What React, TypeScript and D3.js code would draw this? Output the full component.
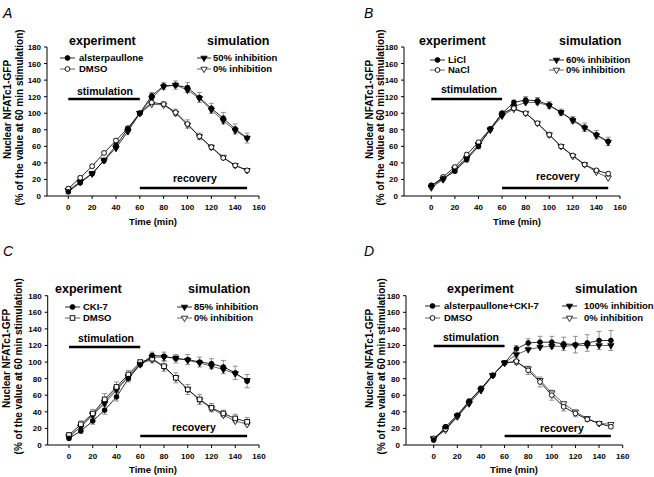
import React from "react";
import * as d3 from "d3";

const times = [0, 10, 20, 30, 40, 50, 60, 70, 80, 90, 100, 110, 120, 130, 140, 150];
const yTicks = [0, 20, 40, 60, 80, 100, 120, 140, 160, 180];
const xTicks = [0, 20, 40, 60, 80, 100, 120, 140, 160];

// Panel A
const aDrug = [5, 16, 27, 43, 61, 81, 100, 121, 133, 134, 131, 119, 106, 94, 81, 70];
const aDrugErr = [2, 2, 2, 3, 3, 3, 2, 4, 4, 5, 6, 6, 6, 7, 6, 6];
const aCtrl = [9, 22, 36, 52, 67, 82, 100, 113, 111, 101, 87, 72, 59, 46, 37, 31];
const aCtrlErr = [2, 2, 2, 2, 2, 2, 2, 3, 3, 4, 5, 4, 3, 2, 2, 2];
const aSimInh = [7, 17, 27, 43, 58, 78, 100, 118, 132, 134, 128, 118, 104, 91, 79, 70];
const aSimCtrl = [7, 17, 27, 43, 58, 78, 100, 111, 110, 100, 86, 72, 59, 47, 37, 31];

// Panel B
const bDrug = [13, 21, 30, 44, 60, 81, 100, 113, 116, 115, 110, 101, 92, 83, 74, 66];
const bDrugErr = [2, 2, 2, 3, 3, 2, 2, 3, 4, 4, 4, 4, 4, 5, 5, 5];
const bCtrl = [12, 23, 35, 50, 65, 81, 100, 106, 100, 88, 74, 60, 49, 38, 31, 27];
const bCtrlErr = [2, 2, 2, 2, 2, 2, 2, 2, 2, 2, 3, 2, 2, 2, 2, 2];
const bSimInh = [11, 20, 32, 45, 62, 80, 97, 108, 113, 113, 109, 101, 91, 82, 73, 65];
const bSimCtrl = [10, 20, 33, 46, 62, 80, 97, 105, 100, 88, 74, 60, 48, 38, 29, 22];

// Panel C
const cDrug = [8, 17, 29, 42, 58, 80, 97, 108, 107, 104, 103, 100, 98, 94, 87, 77];
const cDrugErr = [2, 3, 4, 5, 5, 4, 2, 4, 5, 5, 6, 6, 6, 8, 8, 8];
const cCtrl = [12, 25, 38, 55, 70, 85, 100, 104, 95, 81, 67, 55, 45, 38, 32, 28];
const cCtrlErr = [3, 4, 5, 7, 6, 5, 2, 5, 6, 6, 6, 6, 5, 4, 5, 5];
const cSimInh = [10, 22, 36, 50, 66, 82, 97, 106, 106, 105, 102, 99, 95, 91, 86, 78];
const cSimCtrl = [10, 22, 37, 52, 68, 83, 98, 103, 94, 81, 67, 54, 44, 36, 29, 25];

// Panel D
const dDrug = [6, 22, 36, 53, 68, 84, 99, 116, 123, 124, 124, 122, 121, 123, 126, 126];
const dDrugErr = [2, 2, 2, 2, 2, 2, 2, 4, 5, 7, 7, 8, 10, 10, 11, 12];
const dCtrl = [8, 19, 35, 52, 68, 84, 99, 101, 90, 76, 60, 46, 38, 31, 26, 22];
const dCtrlErr = [2, 2, 2, 2, 3, 2, 2, 4, 5, 6, 6, 5, 4, 3, 2, 2];
const dSimInh = [8, 20, 35, 50, 66, 84, 99, 109, 115, 118, 119, 119, 120, 120, 120, 120];
const dSimCtrl = [7, 18, 34, 50, 66, 84, 99, 100, 92, 78, 63, 50, 40, 32, 26, 25];

const panelLetters = ["A", "B", "C", "D"];
const drugNames = ["alsterpaullone", "LiCl", "CKI-7", "alsterpaullone+CKI-7"];
const ctrlNames = ["DMSO", "NaCl", "DMSO", "DMSO"];
const simInhNames = ["50% inhibition", "60% inhibition", "85% inhibition", "100% inhibition"];
const simCtrlName = "0% inhibition";
const ctrlShapes = ["circle", "circle", "square", "circle"];

const FONT = "'Liberation Sans', Arial, Helvetica, sans-serif";

type Layout = {
  ox: number; x0: number; x160: number; y0: number; y180: number;
  lx: number; ly: number; expX: number; simX: number; headY: number;
  legExpL: number; legExpR: number; legExpT: number;
  legSimL: number; legSimR: number; legSimT: number;
  legY1: number; legY2: number;
  stimX: number; stimY: number; stimBarY: number;
  recX: number; recY: number; recBarY: number;
  timeX: number; timeY: number; yl1: number; yl2: number;
};

const layouts: Layout[] = [
  { ox: 47, x0: 68.3, x160: 259, y0: 196, y180: 47, lx: 3, ly: 18, expX: 69, simX: 207, headY: 45,
    legExpL: 60, legExpR: 75, legExpT: 79, legSimL: 197, legSimR: 211, legSimT: 213, legY1: 58, legY2: 69,
    stimX: 77, stimY: 95, stimBarY: 99, recX: 173, recY: 182, recBarY: 188, timeX: 153, timeY: 225, yl1: 7, yl2: 19 },
  { ox: 404, x0: 431.3, x160: 620, y0: 196, y180: 47, lx: 364, ly: 18, expX: 419, simX: 559, headY: 45,
    legExpL: 430, legExpR: 445, legExpT: 448, legSimL: 549, legSimR: 564, legSimT: 566, legY1: 60, legY2: 70,
    stimX: 441, stimY: 93, stimBarY: 99, recX: 536, recY: 180, recBarY: 188, timeX: 517, timeY: 225, yl1: 369, yl2: 380 },
  { ox: 47.7, x0: 69, x160: 259, y0: 445, y180: 295.7, lx: 3, ly: 256, expX: 55, simX: 188, headY: 293,
    legExpL: 65, legExpR: 80, legExpT: 83, legSimL: 177, legSimR: 192, legSimT: 194, legY1: 307, legY2: 318,
    stimX: 78, stimY: 342, stimBarY: 347, recX: 172, recY: 431, recBarY: 436, timeX: 153, timeY: 473, yl1: 6, yl2: 18 },
  { ox: 406, x0: 433.7, x160: 622.7, y0: 445, y180: 295.7, lx: 364, ly: 256, expX: 447, simX: 575, headY: 293,
    legExpL: 425, legExpR: 440, legExpT: 444, legSimL: 562, legSimR: 577, legSimT: 584, legY1: 306, legY2: 318,
    stimX: 443, stimY: 341, stimBarY: 346, recX: 540, recY: 432, recBarY: 436, timeX: 514, timeY: 473, yl1: 369, yl2: 381 },
];

const panelData = [
  { drug: aDrug, drugErr: aDrugErr, ctrl: aCtrl, ctrlErr: aCtrlErr, simInh: aSimInh, simCtrl: aSimCtrl },
  { drug: bDrug, drugErr: bDrugErr, ctrl: bCtrl, ctrlErr: bCtrlErr, simInh: bSimInh, simCtrl: bSimCtrl },
  { drug: cDrug, drugErr: cDrugErr, ctrl: cCtrl, ctrlErr: cCtrlErr, simInh: cSimInh, simCtrl: cSimCtrl },
  { drug: dDrug, drugErr: dDrugErr, ctrl: dCtrl, ctrlErr: dCtrlErr, simInh: dSimInh, simCtrl: dSimCtrl },
];

const triPath = d3.symbol().type(d3.symbolTriangle).size(17)() as string;

function Marker({ shape, fill, x, y }: { shape: string; fill: string; x: number; y: number }) {
  if (shape === "circle") {
    return <circle cx={x} cy={y} r={2.4} fill={fill} stroke="#000" strokeWidth={0.9} />;
  }
  if (shape === "square") {
    return <rect x={x - 2.3} y={y - 2.3} width={4.6} height={4.6} fill={fill} stroke="#000" strokeWidth={0.9} />;
  }
  return (
    <path d={triPath} transform={`translate(${x},${y}) rotate(180)`} fill={fill} stroke="#000" strokeWidth={0.8} />
  );
}

function Panel({ idx }: { idx: number }) {
  const L = layouts[idx];
  const D = panelData[idx];
  const x = d3.scaleLinear().domain([0, 160]).range([L.x0, L.x160]);
  const y = d3.scaleLinear().domain([0, 180]).range([L.y0, L.y180]);
  const line = d3
    .line<number>()
    .x((_, i) => x(times[i]))
    .y((v) => y(v));

  const series = [
    { vals: D.simCtrl, err: null as number[] | null, shape: "tri", fill: "#fff", stroke: "#555" },
    { vals: D.simInh, err: null as number[] | null, shape: "tri", fill: "#000", stroke: "#555" },
    { vals: D.ctrl, err: D.ctrlErr, shape: ctrlShapes[idx], fill: "#fff", stroke: "#111" },
    { vals: D.drug, err: D.drugErr, shape: "circle", fill: "#000", stroke: "#111" },
  ];

  const midY = (L.y0 + L.y180) / 2;

  return (
    <g fontFamily={FONT}>
      <text x={L.lx} y={L.ly} fontSize={14} fontStyle="italic" fill="#000">
        {panelLetters[idx]}
      </text>
      <line x1={L.ox} x2={L.ox} y1={L.y0} y2={L.y180} stroke="#000" strokeWidth={1} />
      <line x1={L.ox} x2={x(160)} y1={L.y0} y2={L.y0} stroke="#000" strokeWidth={1} />
      {yTicks.map((t) => (
        <g key={"y" + t}>
          <line x1={L.ox - 3} x2={L.ox} y1={y(t)} y2={y(t)} stroke="#000" strokeWidth={1} />
          <text x={L.ox - 6} y={y(t) + 3} fontSize={8} fontWeight="bold" textAnchor="end" fill="#000">
            {t}
          </text>
        </g>
      ))}
      {xTicks.map((t) => (
        <g key={"x" + t}>
          <line x1={x(t)} x2={x(t)} y1={L.y0} y2={L.y0 + 3} stroke="#000" strokeWidth={1} />
          <text x={x(t)} y={L.y0 + 14} fontSize={8} fontWeight="bold" textAnchor="middle" fill="#000">
            {t}
          </text>
        </g>
      ))}
      <text x={L.timeX} y={L.timeY} fontSize={9.5} fontWeight="bold" textAnchor="middle" fill="#000">
        Time (min)
      </text>
      <text
        transform={`translate(${L.yl1 + 3.5},${midY - 12}) rotate(-90)`}
        fontSize={10}
        fontWeight="bold"
        textAnchor="middle"
        fill="#000"
      >
        Nuclear NFATc1-GFP
      </text>
      <text
        transform={`translate(${L.yl2 + 3.5},${midY - 4}) rotate(-90)`}
        fontSize={10}
        fontWeight="bold"
        textAnchor="middle"
        fill="#000"
      >
        (% of the value at 60 min stimulation)
      </text>

      <text x={L.expX} y={L.headY} fontSize={12.5} fontWeight="bold" fill="#000">
        experiment
      </text>
      <text x={L.simX} y={L.headY} fontSize={12.5} fontWeight="bold" fill="#000">
        simulation
      </text>

      {[
        { l: L.legExpL, r: L.legExpR, t: L.legExpT, yy: L.legY1, shape: "circle", fill: "#000", label: drugNames[idx], stroke: "#111" },
        { l: L.legExpL, r: L.legExpR, t: L.legExpT, yy: L.legY2, shape: ctrlShapes[idx], fill: "#fff", label: ctrlNames[idx], stroke: "#555" },
        { l: L.legSimL, r: L.legSimR, t: L.legSimT, yy: L.legY1, shape: "tri", fill: "#000", label: simInhNames[idx], stroke: "#111" },
        { l: L.legSimL, r: L.legSimR, t: L.legSimT, yy: L.legY2, shape: "tri", fill: "#fff", label: simCtrlName, stroke: "#555" },
      ].map((it, k) => (
        <g key={"leg" + k}>
          <line x1={it.l} x2={it.r} y1={it.yy} y2={it.yy} stroke={it.stroke} strokeWidth={0.9} />
          <Marker shape={it.shape} fill={it.fill} x={(it.l + it.r) / 2} y={it.yy} />
          <text x={it.t} y={it.yy + 3.4} fontSize={9.5} fontWeight="bold" fill="#000">
            {it.label}
          </text>
        </g>
      ))}

      <text x={L.stimX} y={L.stimY} fontSize={10.5} fontWeight="bold" fill="#000">
        stimulation
      </text>
      <line x1={x(0)} x2={x(60)} y1={L.stimBarY} y2={L.stimBarY} stroke="#000" strokeWidth={2.6} />
      <text x={L.recX} y={L.recY} fontSize={10.5} fontWeight="bold" fill="#000">
        recovery
      </text>
      <line x1={x(60)} x2={x(150)} y1={L.recBarY} y2={L.recBarY} stroke="#000" strokeWidth={2.6} />

      {series.map((s, si) =>
        s.err
          ? s.vals.map((v, i) => {
              const e = (s.err as number[])[i];
              const cx = x(times[i]);
              return (
                <g key={`e${si}-${i}`} stroke="#777" strokeWidth={0.8}>
                  <line x1={cx} x2={cx} y1={y(v - e)} y2={y(v + e)} />
                  <line x1={cx - 2.5} x2={cx + 2.5} y1={y(v - e)} y2={y(v - e)} />
                  <line x1={cx - 2.5} x2={cx + 2.5} y1={y(v + e)} y2={y(v + e)} />
                </g>
              );
            })
          : null
      )}
      {series.map((s, si) => (
        <path key={"l" + si} d={line(s.vals) as string} fill="none" stroke={s.stroke} strokeWidth={0.9} />
      ))}
      {series.map((s, si) =>
        s.vals.map((v, i) => (
          <Marker key={`m${si}-${i}`} shape={s.shape} fill={s.fill} x={x(times[i])} y={y(v)} />
        ))
      )}
    </g>
  );
}

export default function App() {
  return (
    <svg
      width={654}
      height={477}
      viewBox="0 0 654 477"
      style={{ position: "absolute", left: 0, top: 0, background: "#fff" }}
    >
      <rect x={0} y={0} width={654} height={477} fill="#fff" />
      {[0, 1, 2, 3].map((i) => (
        <Panel key={i} idx={i} />
      ))}
    </svg>
  );
}
